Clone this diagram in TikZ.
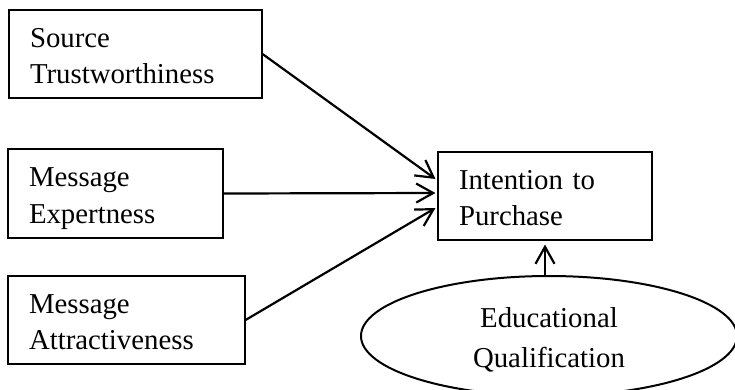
\documentclass[tikz,border=0pt]{standalone}
\usepackage{fontspec}
\setmainfont{Liberation Serif}
\usetikzlibrary{arrows.meta,shapes.geometric,calc}
\begin{document}
\begin{tikzpicture}[x=1pt,y=-1pt,
 box/.style={draw,line width=1.1pt,rectangle,inner xsep=21pt,inner ysep=0pt,align=left,
   font=\fontsize{28.8}{36.7}\selectfont,text height=20pt,text depth=34pt,minimum height=88pt},
 oval/.style={draw,ellipse,line width=2pt,inner sep=0pt,minimum width=376pt,minimum height=120pt,
   align=center,font=\fontsize{28.8}{40}\selectfont,text height=62pt,text depth=0pt},
 arr/.style={-{Straight Barb[length=17pt,width=19pt]},line width=2.2pt}]
\clip (0,0) rectangle (735,389);
\useasboundingbox (0,0) rectangle (735,389);
\node[box,text width=211pt] (b1) at (135.5,54) {Source\\Trustworthiness};
\node[box,text width=173pt,minimum height=89pt] (b2) at (115.5,193.5) {Message\\Expertness};
\node[box,text width=195pt] (b3) at (126.5,320) {Message\\Attractiveness};
\node[box,text width=172pt] (t) at (545,196) {Intention to\\Purchase};
\node[oval] (e) at (549,336) {Educational\\Qualification};
\coordinate (t1) at ($(t.west)+(-2,-17)$);
\coordinate (t2) at ($(t.west)+(-2,-3)$);
\coordinate (t3) at ($(t.west)+(-2,12)$);
\draw[arr] (b1.east) -- (t1);
\draw[arr] (b2.east) -- (t2);
\draw[arr] (b3.east) -- (t3);
\coordinate (eb) at (e.north -| t.south);
\draw[arr,shorten >=4pt] (eb) -- (t.south);
\end{tikzpicture}
\end{document}
